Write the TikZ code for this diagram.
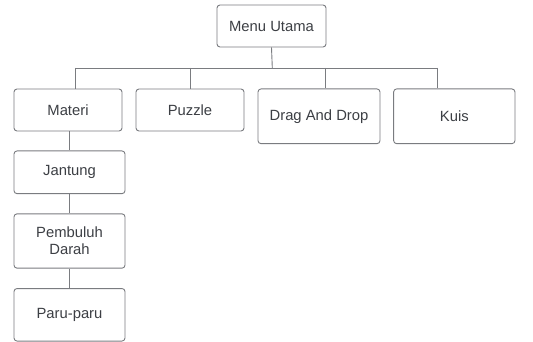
\documentclass[tikz,border=0pt]{standalone}
\usepackage{fontspec}
\setmainfont{Liberation Sans}
\definecolor{boxline}{HTML}{7A7C80}
\definecolor{txt}{HTML}{3C3F44}
\begin{document}
\begin{tikzpicture}[x=1pt,y=-1pt,
  box/.style={draw=boxline,line width=0.9pt,rounded corners=3pt,fill=white,
    text=txt,align=center,inner sep=0pt,font=\fontsize{14.8pt}{17pt}\selectfont},
  conn/.style={draw=boxline,line width=0.9pt}]
\useasboundingbox[fill=white] (0,0) rectangle (533,342);
\node[box,minimum width=109pt,minimum height=42pt] (menu) at (271.5,26) {Menu Utama};
\node[box,minimum width=108pt,minimum height=42pt] (materi) at (68,110) {Materi};
\node[box,minimum width=108pt,minimum height=42pt] (puzzle) at (190,110) {Puzzle};
\node[box,minimum width=122pt,minimum height=54.7pt] (dnd) at (319,116.3) {Drag And Drop};
\node[box,minimum width=121.3pt,minimum height=54.7pt] (kuis) at (454.3,116.3) {Kuis};
\node[box,minimum width=111pt,minimum height=42.7pt] (jantung) at (69.5,172.3) {Jantung};
\node[box,minimum width=111pt,minimum height=54.3pt] (pembuluh) at (69.5,241) {Pembuluh\\Darah};
\node[box,minimum width=111pt,minimum height=52.5pt] (paru) at (69.5,314.8) {Paru-paru};
\coordinate (bm) at (272.3,68);
\coordinate (b1) at (75.7,68);
\coordinate (b2) at (190.7,68);
\coordinate (b3) at (325.7,68);
\coordinate (b4) at (437.7,68);
\draw[conn] (menu.south) -- (bm);
\draw[conn] (b1) -- (b4);
\draw[conn] (b1) -- (b1 |- materi.north);
\draw[conn] (b2) -- (b2 |- puzzle.north);
\draw[conn] (b3) -- (b3 |- dnd.north);
\draw[conn] (b4) -- (b4 |- kuis.north);
\draw[conn] (materi.south -| jantung.north) -- (jantung.north);
\draw[conn] (jantung.south) -- (pembuluh.north);
\draw[conn] (pembuluh.south) -- (paru.north);
\end{tikzpicture}
\end{document}
